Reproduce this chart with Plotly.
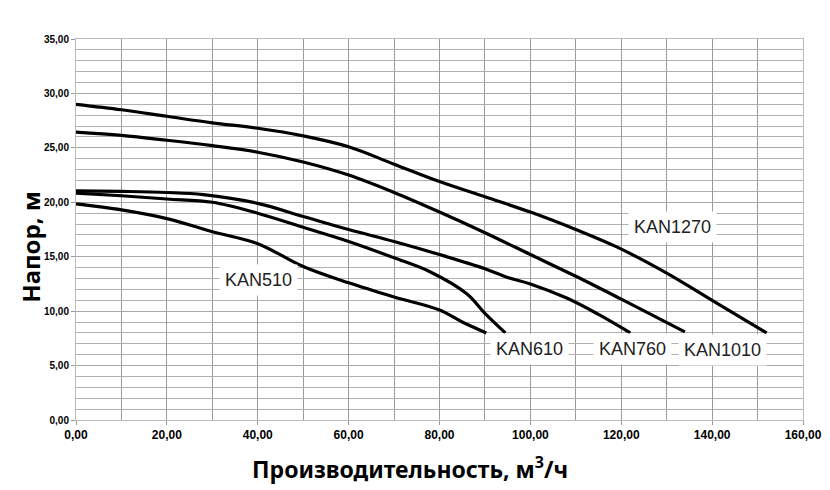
import plotly.graph_objects as go

# Data (flow m3/h, head m)
kan1270_q = [0, 10, 20, 30, 40, 50, 60, 70, 80, 90, 100, 110, 119, 130, 140, 152]
kan1270_h = [29.0, 28.5, 27.9, 27.3, 26.8, 26.1, 25.1, 23.5, 21.9, 20.5, 19.1, 17.5, 15.9, 13.5, 11.0, 8.0]

kan1010_q = [0, 10, 20, 30, 40, 50, 60, 70, 80, 90, 100, 110, 120, 134]
kan1010_h = [26.45, 26.15, 25.7, 25.2, 24.6, 23.7, 22.5, 20.9, 19.1, 17.2, 15.2, 13.2, 11.1, 8.1]

kan760_q = [0, 10, 20, 28, 40, 50, 60, 70, 80, 90, 95, 100, 108, 115, 122]
kan760_h = [21.05, 21.0, 20.9, 20.7, 19.9, 18.7, 17.5, 16.4, 15.2, 13.9, 13.1, 12.5, 11.2, 9.7, 8.0]

kan610_q = [0, 10, 20, 30, 40, 50, 60, 70, 78, 86, 90, 94.5]
kan610_h = [20.85, 20.6, 20.3, 20.0, 19.0, 17.7, 16.4, 14.9, 13.6, 11.6, 9.8, 8.0]

kan510_q = [0, 10, 20, 30, 40, 50, 60, 70, 80, 85, 90.3]
kan510_h = [19.85, 19.3, 18.5, 17.3, 16.2, 14.1, 12.6, 11.3, 10.1, 9.0, 8.0]

series_names = ["KAN1270", "KAN1010", "KAN760", "KAN610", "KAN510"]
label_q = [131.2, 142.2, 122.4, 99.9, 40.1]
label_h = [17.7, 6.4, 6.5, 6.5, 12.9]

x_title = "Производительность, м<sup>3</sup>/ч"
y_title = "Напор, м"

series = [
    (kan1270_q, kan1270_h),
    (kan1010_q, kan1010_h),
    (kan760_q, kan760_h),
    (kan610_q, kan610_h),
    (kan510_q, kan510_h),
]

fig = go.Figure()
for name, (q, h) in zip(series_names, series):
    fig.add_trace(go.Scatter(
        x=q, y=h, mode="lines", name=name,
        line=dict(color="black", width=3.2, shape="spline", smoothing=1.0),
        showlegend=False, hoverinfo="skip",
    ))

for name, lq, lh in zip(series_names, label_q, label_h):
    fig.add_annotation(
        x=lq, y=lh, text=name, showarrow=False,
        font=dict(family="Liberation Sans, Arial, sans-serif", size=18, color="#222"),
        bgcolor="white", borderpad=5,
    )

fig.add_annotation(
    xref="paper", yref="paper", x=0.46, y=-0.125, xanchor="center", yanchor="middle",
    text=x_title, showarrow=False,
    font=dict(family="Noto Sans, sans-serif", size=23, color="black", weight="bold"),
)
fig.add_annotation(
    xref="paper", yref="paper", x=-0.063, y=0.455, xanchor="center", yanchor="middle",
    text=y_title, showarrow=False, textangle=-90,
    font=dict(family="Noto Sans, sans-serif", size=24, color="black", weight="bold"),
)

# page body has an 8px offset, so the figure is sized to end at the window edge
fig.update_layout(
    width=822, height=482,
    margin=dict(l=68, r=27, t=31, b=70, autoexpand=False),
    paper_bgcolor="white", plot_bgcolor="white",
    separators=", ",
)
fig.update_xaxes(
    range=[0, 160], dtick=20, tick0=0, tickformat=".2f", automargin=False,
    showgrid=True, gridcolor="#9a9a9a", gridwidth=1,
    minor=dict(dtick=10, showgrid=True, gridcolor="#9a9a9a", gridwidth=1),
    showline=True, linecolor="#bbbbbb", linewidth=1, mirror=True,
    ticks="outside", ticklen=4, tickcolor="#999999",
    tickfont=dict(family="Liberation Sans, Arial, sans-serif", size=12, color="black", weight="bold"),
    zeroline=False, fixedrange=True,
)
fig.update_yaxes(
    range=[0, 35], dtick=5, tick0=0, tickformat=".2f", automargin=False,
    showgrid=True, gridcolor="#a8a8a8", gridwidth=1,
    minor=dict(dtick=1, showgrid=True, gridcolor="#b0b0b0", gridwidth=1),
    showline=True, linecolor="#bbbbbb", linewidth=1, mirror=True,
    ticks="outside", ticklen=4, tickcolor="#999999",
    tickfont=dict(family="Liberation Sans, Arial, sans-serif", size=10, color="black", weight="bold"),
    zeroline=False, fixedrange=True,
)

fig.write_html("out.html")
